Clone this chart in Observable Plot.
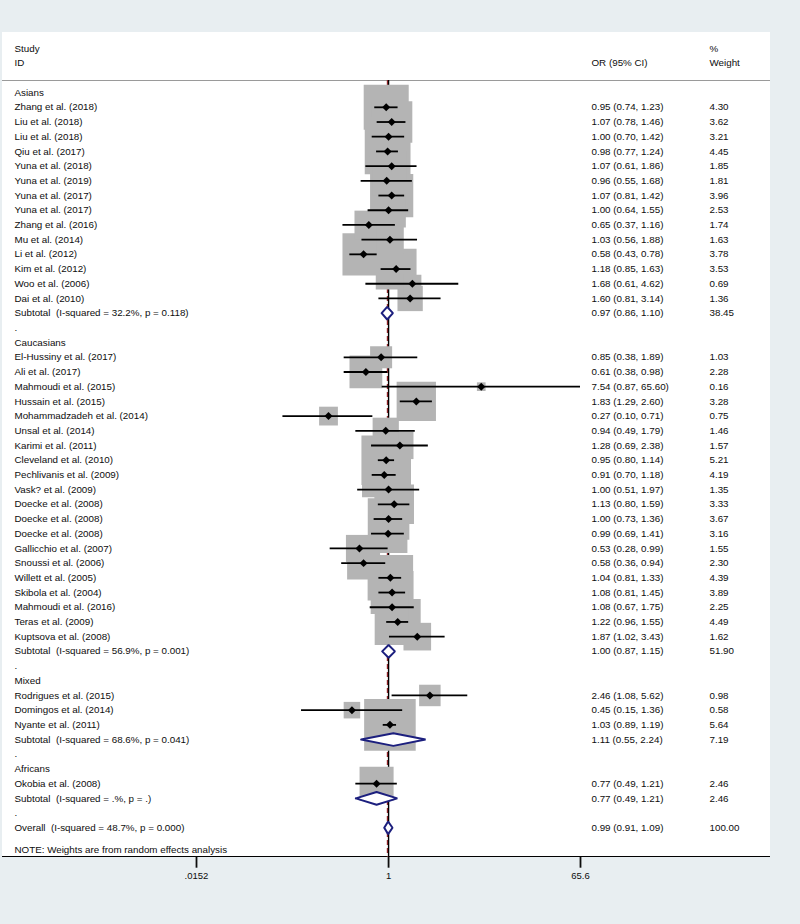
<!DOCTYPE html>
<html>
<head>
<meta charset="utf-8">
<script src="https://cdn.jsdelivr.net/npm/d3@7"></script>
<script src="https://cdn.jsdelivr.net/npm/@observablehq/plot@0.6"></script>
<style>
  html, body { margin: 0; padding: 0; background: #e8eef1; }
  #wrap { position: relative; width: 800px; height: 924px; overflow: hidden; }
  #panel { position: absolute; left: 2px; top: 32px; width: 768px; height: 824px; background: #ffffff; border-bottom: 1.6px solid #000; }
  #sep { position: absolute; left: 2px; top: 79.5px; width: 768px; height: 1.5px; background: #9a9a9a; }
  #chart { position: absolute; left: 0; top: 0; }
</style>
</head>
<body>
<div id="wrap">
  <div id="panel"></div>
  <div id="sep"></div>
  <div id="chart"></div>
</div>
<script>
// ---------- data ----------
const groups = ["Asians", "Caucasians", "Mixed", "Africans"];

const studyNames = [
  "Zhang et al. (2018)", "Liu et al. (2018)", "Liu et al. (2018)", "Qiu et al. (2017)",
  "Yuna et al. (2018)", "Yuna et al. (2019)", "Yuna et al. (2017)", "Yuna et al. (2017)",
  "Zhang et al. (2016)", "Mu et al. (2014)", "Li et al. (2012)", "Kim et al. (2012)",
  "Woo et al. (2006)", "Dai et al. (2010)",
  "El-Hussiny et al. (2017)", "Ali et al. (2017)", "Mahmoudi et al. (2015)", "Hussain et al. (2015)",
  "Mohammadzadeh et al. (2014)", "Unsal et al. (2014)", "Karimi et al. (2011)", "Cleveland et al. (2010)",
  "Pechlivanis et al. (2009)", "Vask? et al. (2009)", "Doecke et al. (2008)", "Doecke et al. (2008)",
  "Doecke et al. (2008)", "Gallicchio et al. (2007)", "Snoussi et al. (2006)", "Willett et al. (2005)",
  "Skibola et al. (2004)", "Mahmoudi et al. (2016)", "Teras et al. (2009)", "Kuptsova et al. (2008)",
  "Rodrigues et al. (2015)", "Domingos et al. (2014)", "Nyante et al. (2011)",
  "Okobia et al. (2008)"
];
const studyGroup = [
  "Asians","Asians","Asians","Asians","Asians","Asians","Asians","Asians","Asians","Asians","Asians","Asians","Asians","Asians",
  "Caucasians","Caucasians","Caucasians","Caucasians","Caucasians","Caucasians","Caucasians","Caucasians","Caucasians","Caucasians",
  "Caucasians","Caucasians","Caucasians","Caucasians","Caucasians","Caucasians","Caucasians","Caucasians","Caucasians","Caucasians",
  "Mixed","Mixed","Mixed",
  "Africans"
];
const studyOR = [0.95,1.07,1.00,0.98,1.07,0.96,1.07,1.00,0.65,1.03,0.58,1.18,1.68,1.60,
  0.85,0.61,7.54,1.83,0.27,0.94,1.28,0.95,0.91,1.00,1.13,1.00,0.99,0.53,0.58,1.04,1.08,1.08,1.22,1.87,
  2.46,0.45,1.03,
  0.77];
const studyLo = [0.74,0.78,0.70,0.77,0.61,0.55,0.81,0.64,0.37,0.56,0.43,0.85,0.61,0.81,
  0.38,0.38,0.87,1.29,0.10,0.49,0.69,0.80,0.70,0.51,0.80,0.73,0.69,0.28,0.36,0.81,0.81,0.67,0.96,1.02,
  1.08,0.15,0.89,
  0.49];
const studyHi = [1.23,1.46,1.42,1.24,1.86,1.68,1.42,1.55,1.16,1.88,0.78,1.63,4.62,3.14,
  1.89,0.98,65.60,2.60,0.71,1.79,2.38,1.14,1.18,1.97,1.59,1.36,1.41,0.99,0.94,1.33,1.45,1.75,1.55,3.43,
  5.62,1.36,1.19,
  1.21];
const studyWeight = [4.30,3.62,3.21,4.45,1.85,1.81,3.96,2.53,1.74,1.63,3.78,3.53,0.69,1.36,
  1.03,2.28,0.16,3.28,0.75,1.46,1.57,5.21,4.19,1.35,3.33,3.67,3.16,1.55,2.30,4.39,3.89,2.25,4.49,1.62,
  0.98,0.58,5.64,
  2.46];

const subLabels = [
  "Subtotal  (I-squared = 32.2%, p = 0.118)",
  "Subtotal  (I-squared = 56.9%, p = 0.001)",
  "Subtotal  (I-squared = 68.6%, p = 0.041)",
  "Subtotal  (I-squared = .%, p = .)"
];
const subOR = [0.97, 1.00, 1.11, 0.77];
const subLo = [0.86, 0.87, 0.55, 0.49];
const subHi = [1.10, 1.15, 2.24, 1.21];
const subWeight = [38.45, 51.90, 7.19, 2.46];

const overallLabel = "Overall  (I-squared = 48.7%, p = 0.000)";
const overallOR = 0.99, overallLo = 0.91, overallHi = 1.09, overallWeight = 100.00;
const noteText = "NOTE: Weights are from random effects analysis";

const xTicks = [0.0152, 1, 65.6];
const xTickLabels = [".0152", "1", "65.6"];

// ---------- build rows ----------
const labelRows = [];   // every text line in the left column
const studies = [];     // individual studies
const summaries = [];   // subtotals + overall (diamonds)
let row = 0;
groups.forEach((g, gi) => {
  labelRows.push({row, label: g});
  row++;
  studyNames.forEach((n, i) => {
    if (studyGroup[i] !== g) return;
    const s = {row, label: n, or: studyOR[i], lo: studyLo[i], hi: studyHi[i], w: studyWeight[i]};
    studies.push(s); labelRows.push(s);
    row++;
  });
  const sub = {row, label: subLabels[gi], or: subOR[gi], lo: subLo[gi], hi: subHi[gi], w: subWeight[gi], id: "s" + gi};
  summaries.push(sub); labelRows.push(sub);
  row++;
  labelRows.push({row, label: "."});
  row++;
});
const overall = {row, label: overallLabel, or: overallOR, lo: overallLo, hi: overallHi, w: overallWeight, id: "overall"};
summaries.push(overall); labelRows.push(overall);
const noteRow = row + 1.5;

const valueRows = [...studies, ...summaries];
const fmt2 = v => v.toFixed(2);

// diamond outlines
const dh = 0.43;
const diamondPts = summaries.flatMap(s => [
  {id: s.id, x: s.lo, y: s.row},
  {id: s.id, x: s.or, y: s.row - dh},
  {id: s.id, x: s.hi, y: s.row},
  {id: s.id, x: s.or, y: s.row + dh},
  {id: s.id, x: s.lo, y: s.row}
]);

const header = [
  {row: -3, label: "Study", col: "left"},
  {row: -2, label: "ID", col: "left"},
  {row: -2, label: "OR (95% CI)", col: "or"},
  {row: -3, label: "%", col: "w"},
  {row: -2, label: "Weight", col: "w"}
];

const tickData = xTicks.map((t, i) => ({x: t, label: xTickLabels[i]}));

const font = "'Liberation Sans', Arial, sans-serif";
const fs = 9.8;
const ink = "#0d0d0d";

const chart = Plot.plot({
  width: 800,
  height: 924,
  marginTop: 48,
  marginBottom: 67.3,
  marginLeft: 196,
  marginRight: 220,
  style: {background: "transparent", fontFamily: font, fontSize: fs + "px", color: ink},
  x: {type: "log", domain: [xTicks[0], xTicks[xTicks.length - 1]]},
  y: {domain: [-3, 52], reverse: true, axis: null},
  r: {type: "sqrt", domain: [0, 1], range: [0, 12.25], clamp: false},
  marks: [
    // overall-estimate dashed line and null line
    Plot.ruleX([overallOR], {insetTop: 32, stroke: "#a0282d", strokeWidth: 1.4, strokeDasharray: "5,3", dx: -0.6}),
    Plot.ruleX([1], {insetTop: 32, stroke: "#000", strokeWidth: 1.4}),
    // weight boxes
    Plot.dot(studies, {x: "or", y: "row", r: "w", symbol: "square", fill: "#b4b4b4", stroke: "none"}),
    // confidence intervals
    Plot.ruleY(studies, {y: "row", x1: "lo", x2: "hi", stroke: "#000", strokeWidth: 1.8}),
    // point estimates
    Plot.dot(studies, {x: "or", y: "row", r: 3.6, symbol: "diamond2", fill: "#000", stroke: "none"}),
    // pooled diamonds
    Plot.line(diamondPts, {x: "x", y: "y", z: "id", fill: "white", stroke: "#1c1f7e", strokeWidth: 2, strokeLinejoin: "miter"}),
    // x axis ticks and labels
    Plot.axisX({ticks: xTicks, tickFormat: () => "", tickSize: 11, strokeWidth: 1.8, label: null}),
    Plot.text(tickData, {x: "x", text: "label", frameAnchor: "bottom", dy: 22, fontSize: 9.5, fill: ink}),
    // left column labels
    Plot.text(labelRows, {y: "row", text: "label", frameAnchor: "left", dx: -182, textAnchor: "start", fill: ink}),
    Plot.text([{row: noteRow, label: noteText}], {y: "row", text: "label", frameAnchor: "left", dx: -182, textAnchor: "start", fill: ink}),
    // OR column
    Plot.text(valueRows, {y: "row", text: d => `${fmt2(d.or)} (${fmt2(d.lo)}, ${fmt2(d.hi)})`, frameAnchor: "right", dx: 11, textAnchor: "start", fill: ink}),
    // weight column
    Plot.text(valueRows, {y: "row", text: d => fmt2(d.w), frameAnchor: "right", dx: 129, textAnchor: "start", fill: ink}),
    // headers
    Plot.text(header.filter(h => h.col === "left"), {y: "row", text: "label", frameAnchor: "left", dx: -182, textAnchor: "start", fill: ink}),
    Plot.text(header.filter(h => h.col === "or"), {y: "row", text: "label", frameAnchor: "right", dx: 11, textAnchor: "start", fill: ink}),
    Plot.text(header.filter(h => h.col === "w"), {y: "row", text: "label", frameAnchor: "right", dx: 129, textAnchor: "start", fill: ink})
  ]
});
document.getElementById("chart").appendChild(chart);
</script>
</body>
</html>
